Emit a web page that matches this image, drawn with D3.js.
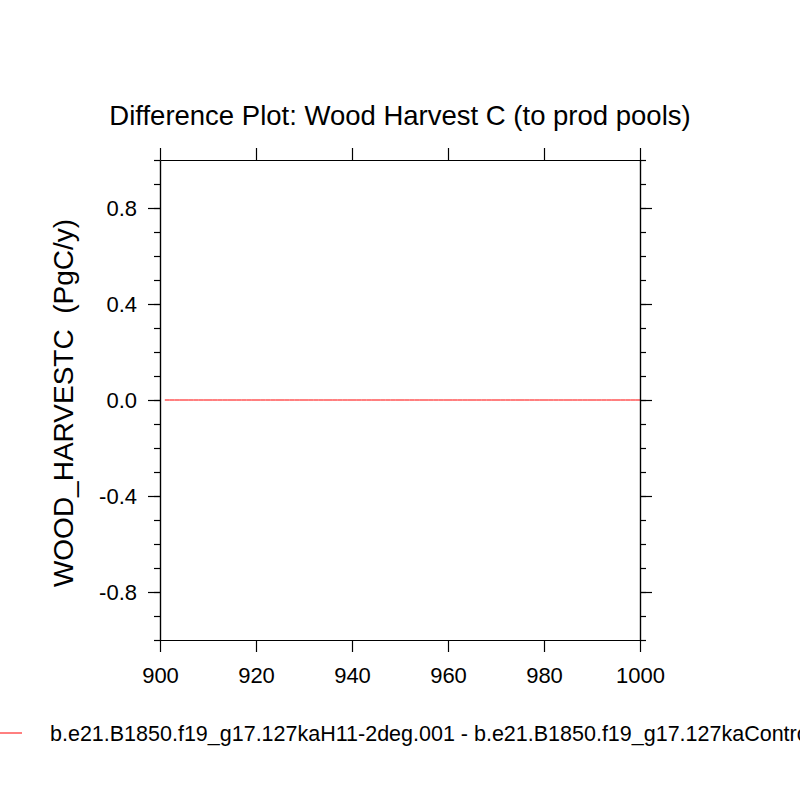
<!DOCTYPE html>
<html>
<head>
<meta charset="utf-8">
<script src="https://cdn.jsdelivr.net/npm/d3@7"></script>
<style>
  body { margin: 0; background: #fff; }
  svg { font-family: "Liberation Sans", Arial, sans-serif; }
</style>
</head>
<body>
<div id="chart"></div>
<script>
// data: the difference is zero every year
const years = d3.range(901, 1001);
const diffValues = years.map(() => 0);
const xTicks = [900, 920, 940, 960, 980, 1000];
const yMajorTicks = [-0.8, -0.4, 0.0, 0.4, 0.8];
const yMinorTicks = d3.range(-10, 11).map(d => d / 10);
const legendLabel = 'b.e21.B1850.f19_g17.127kaH11-2deg.001 - b.e21.B1850.f19_g17.127kaControl';

const W = 800, H = 800;
const margin = { top: 160, right: 160, bottom: 160, left: 160 };
const width = W - margin.left - margin.right;
const height = H - margin.top - margin.bottom;

const svg = d3.select('#chart')
    .append('svg')
    .attr('width', W)
    .attr('height', H);

const g = svg.append('g')
    .attr('transform', 'translate(' + margin.left + ',' + margin.top + ')');

const x = d3.scaleLinear().domain([900, 1000]).range([0, width]);
const y = d3.scaleLinear().domain([-1, 1]).range([height, 0]);

// series line
const line = d3.line()
    .x((d, i) => x(years[i]))
    .y(d => y(d));

g.append('path')
    .datum(diffValues)
    .attr('fill', 'none')
    .attr('stroke', 'red')
    .attr('stroke-width', 1)
    .attr('d', line);

// axes, NCL style: ticks point outward on all four sides
function styleAxis(sel) {
    sel.select('.domain').attr('stroke', '#000').attr('stroke-width', 1.2);
    sel.selectAll('.tick line').attr('stroke', '#000').attr('stroke-width', 1.2);
    sel.selectAll('.tick text')
        .attr('fill', '#000')
        .style('font-size', '22px');
}

const yFmt = d => d3.format('.1f')(d).replace('\u2212', '-');

g.append('g')
    .attr('transform', 'translate(0,' + height + ')')
    .call(d3.axisBottom(x).tickValues(xTicks).tickSize(12).tickSizeOuter(0).tickPadding(15).tickFormat(d3.format('d')))
    .call(styleAxis);

g.append('g')
    .call(d3.axisTop(x).tickValues(xTicks).tickSize(12).tickSizeOuter(0).tickFormat(''))
    .call(styleAxis);

// minor y ticks
g.append('g')
    .call(d3.axisLeft(y).tickValues(yMinorTicks).tickSize(6).tickSizeOuter(0).tickFormat(''))
    .call(styleAxis);
g.append('g')
    .attr('transform', 'translate(' + width + ',0)')
    .call(d3.axisRight(y).tickValues(yMinorTicks).tickSize(6).tickSizeOuter(0).tickFormat(''))
    .call(styleAxis);

// major y ticks
g.append('g')
    .call(d3.axisLeft(y).tickValues(yMajorTicks).tickSize(12).tickSizeOuter(0).tickPadding(11).tickFormat(yFmt))
    .call(styleAxis);
g.append('g')
    .attr('transform', 'translate(' + width + ',0)')
    .call(d3.axisRight(y).tickValues(yMajorTicks).tickSize(12).tickSizeOuter(0).tickFormat(''))
    .call(styleAxis);

// title
svg.append('text')
    .attr('x', 400)
    .attr('y', 125)
    .attr('text-anchor', 'middle')
    .style('font-size', '27.5px')
    .text('Difference Plot: Wood Harvest C (to prod pools)');

// y axis label
svg.append('text')
    .attr('transform', 'translate(73,403) rotate(-90)')
    .attr('text-anchor', 'middle')
    .style('font-size', '28px')
    .style('white-space', 'pre')
    .text('WOOD_HARVESTC  (PgC/y)');

// legend (runs off the right edge, as in the original)
svg.append('line')
    .attr('x1', 0).attr('x2', 22)
    .attr('y1', 733).attr('y2', 733)
    .attr('stroke', 'red')
    .attr('stroke-width', 1);

svg.append('text')
    .attr('x', 50)
    .attr('y', 741)
    .style('font-size', '21.5px')
    .text(legendLabel);
</script>
</body>
</html>
